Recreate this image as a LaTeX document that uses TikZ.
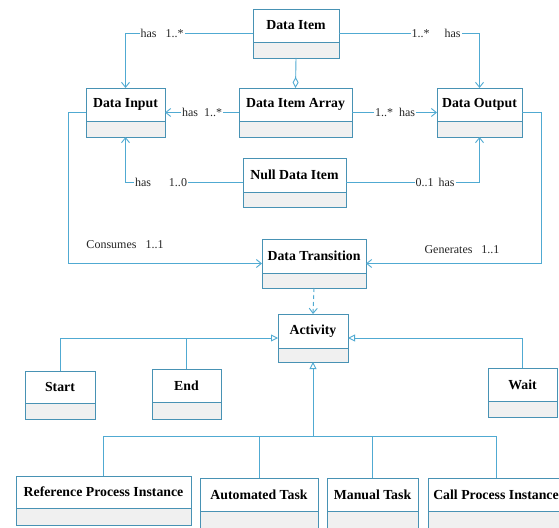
\documentclass[tikz,border=0pt]{standalone}
\usepackage{fontspec}
\setmainfont{Liberation Serif}
\usetikzlibrary{arrows.meta,fit}
\definecolor{wire}{RGB}{80,170,210}
\definecolor{frame}{RGB}{72,146,180}
\definecolor{compart}{RGB}{240,240,240}
\tikzset{
  wire/.style={draw=wire, line width=0.9pt},
  assoc/.style={wire, -{Straight Barb[length=5pt,width=8pt]}},
  inherit/.style={wire, -{Triangle[open,length=7pt,width=7pt,fill=white]}},
  depend/.style={assoc, dash pattern=on 4pt off 3pt},
  aggr/.style={wire, -{Diamond[open,length=11pt,width=6pt,fill=white]}},
  mult/.style={fill=white, inner sep=1pt, text=black!85, font=\fontsize{12}{14}\selectfont},
  note/.style={inner sep=1pt, text=black!85, font=\fontsize{12}{14}\selectfont},
  classbox/.style={draw=frame, line width=0.9pt, inner sep=0pt, outer sep=0pt},
  ctitle/.style={font=\fontsize{13.8}{16}\selectfont\bfseries, text=black},
}
% UML class: name, left, top, right, divider, bottom, title
\newcommand\umlclass[7]{%
  \fill[compart] (#2,#5) rectangle (#4,#6);
  \node[classbox, fit={(#2,#3) (#4,#6)}] (#1) {};
  \draw[frame, line width=0.9pt] (#2,#5) -- (#4,#5);
  \node[ctitle] at ({(#2+#4)/2},{(#3+#5)/2}) {#7};
}
\begin{document}
\begin{tikzpicture}[x=1pt,y=-1pt]
\useasboundingbox (0,0) rectangle (559,527);
\fill[white] (0,0) rectangle (559,527);

% classes
\umlclass{item}{253}{9}{339}{42}{58}{Data Item}
\umlclass{input}{86}{88}{165}{121}{137}{Data Input}
\umlclass{array}{239}{88}{352}{121}{137}{Data Item Array}
\umlclass{output}{437}{88}{522}{121}{137}{Data Output}
\umlclass{null}{243}{158}{346}{192}{207}{Null Data Item}
\umlclass{trans}{262}{239}{366}{273}{288}{Data Transition}
\umlclass{act}{278}{314}{348}{348}{362}{Activity}
\umlclass{start}{25}{371}{95}{403}{419}{Start}
\umlclass{end}{152}{369}{221}{402}{419}{End}
\umlclass{wait}{488}{368}{557}{401}{417}{Wait}
\umlclass{refp}{16}{476}{191}{508}{525}{Reference Process Instance}
\umlclass{auto}{200}{478}{318}{511}{530}{Automated Task}
\umlclass{manual}{327}{478}{418}{511}{530}{Manual Task}
\umlclass{callp}{428}{478}{564}{511}{530}{Call Process Instance}

% associations among the data classes
\draw[assoc] (item.west) -| (input.north);
\node[mult] at (162,33.5) {has\hspace{9pt}1..*};
\draw[assoc] (item.east) -| (output.north);
\node[mult] at (436,33.5) {1..*\hspace{15pt}has};
\draw[aggr] (item.south) -- (array.north);
\draw[assoc] (array.west) -- (input.east);
\node[mult] at (202,112.5) {has\hspace{6pt}1..*};
\draw[assoc] (array.east) -- (output.west);
\node[mult] at (395,112.5) {1..*\hspace{6pt}has};
\draw[assoc] (null.west) -| (input.south);
\node[mult] at (161,182.5) {has\hspace{18pt}1..0};
\draw[assoc] (null.east) -| (output.south);
\node[mult] at (435,182.5) {0..1\hspace{5pt}has};

% consumption and generation
\coordinate (cl) at (68,0);
\coordinate (cr) at (541,0);
\draw[assoc] (input.west) -- (cl |- input.west) |- (trans.west);
\node[note] at (125,245) {Consumes\hspace{9pt}1..1};
\draw[assoc] (output.east) -- (cr |- output.east) |- (trans.east);
\node[note] at (462,250) {Generates\hspace{9pt}1..1};
\draw[depend] (trans.south) -- (act.north);

% generalisations of Activity
\draw[inherit] (start.north) |- (act.west);
\draw[wire] (end.north) -- (end.north |- act.west);
\draw[inherit] (wait.north) |- (act.east);
\coordinate (bus) at (0,436);
\draw[inherit] (act.south |- bus) -- (act.south);
\draw[wire] (refp.north) |- (callp.north |- bus) -- (callp.north);
\draw[wire] (auto.north) -- (auto.north |- bus);
\draw[wire] (manual.north) -- (manual.north |- bus);
\end{tikzpicture}
\end{document}
